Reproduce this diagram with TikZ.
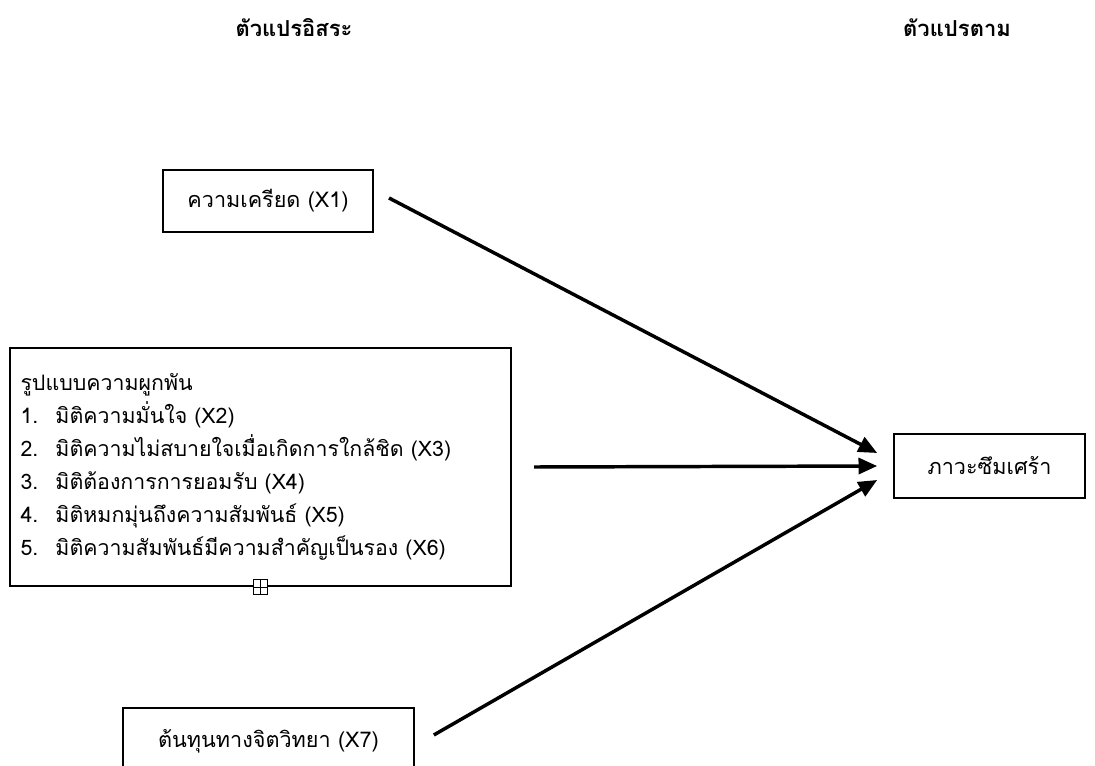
\documentclass[tikz,border=0pt]{standalone}
\usepackage{fontspec}
\newfontfamily\thai[Script=Thai]{Loma}
\usetikzlibrary{arrows.meta,calc}
\begin{document}
\begin{tikzpicture}[x=0.75pt,y=-0.75pt,
  box/.style={draw,line width=1.5pt,inner sep=0pt,font={\thai\fontsize{16.2}{19}\selectfont}},
  head/.style={font={\thai\bfseries\fontsize{16.5}{19}\selectfont}},
  link/.style={line width=2.6pt,-{Triangle[length=14pt,width=12pt]}}]
\useasboundingbox (0,0) rectangle (1095,766);
\clip (0,0) rectangle (1095,766);
\node[head] (hin) at (294,28) {ตัวแปรอิสระ};
\node[head] (hout) at (957,28) {ตัวแปรตาม};
\node[box,minimum width=157.5pt,minimum height=46.5pt] (x1) at (268,201) {ความเครียด (X1)};
\node[box,minimum width=375.75pt,minimum height=178.5pt,text width=360pt,align=left,
  font={\thai\fontsize{16}{24.75}\selectfont}] (x26) at (260.5,467)
  {รูปแบบความผูกพัน\\
   \makebox[26.25pt][l]{1.}มิติความมั่นใจ (X2)\\
   \makebox[26.25pt][l]{2.}มิติความไม่สบายใจเมื่อเกิดการใกล้ชิด (X3)\\
   \makebox[26.25pt][l]{3.}มิติต้องการการยอมรับ (X4)\\
   \makebox[26.25pt][l]{4.}มิติหมกมุ่นถึงความสัมพันธ์ (X5)\\
   \makebox[26.25pt][l]{5.}มิติความสัมพันธ์มีความสำคัญเป็นรอง (X6)};
\node[draw,line width=0.6pt,fill=white,minimum size=11pt,inner sep=0pt] (hdl) at (260.5,587) {};
\draw[line width=0.6pt] (hdl.north) -- (hdl.south) (hdl.west) -- (hdl.east);
\node[box,minimum width=218pt,minimum height=50pt] (x7) at (268.5,741) {ต้นทุนทางจิตวิทยา (X7)};
\node[box,minimum width=143pt,minimum height=48pt] (y) at (989.5,466) {ภาวะซึมเศร้า};
\draw[link] ($(x1.east)+(15,-3)$) -- ($(y.west)+(-16,-13)$);
\draw[link] ($(x26.east)+(22,0)$) -- ($(y.west)+(-16,0)$);
\draw[link] ($(x7.east)+(19,-6)$) -- ($(y.west)+(-16,14)$);
\end{tikzpicture}
\end{document}
